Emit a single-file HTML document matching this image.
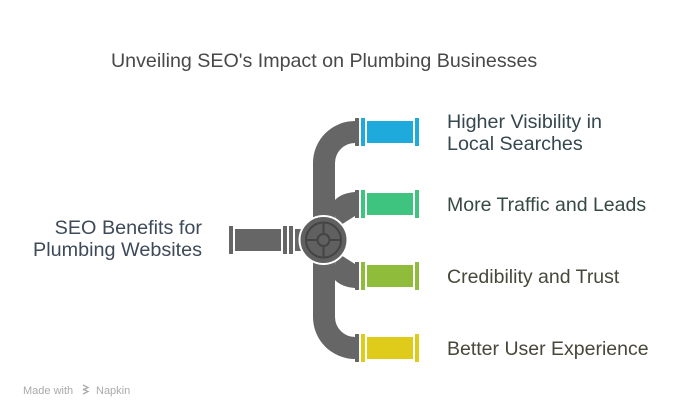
<!DOCTYPE html>
<html>
<head>
<meta charset="utf-8">
<style>
  html,body{margin:0;padding:0;background:#fff;}
  body{width:684px;height:418px;overflow:hidden;position:relative;}
  svg{position:absolute;left:0;top:0;}
  text{font-family:"Liberation Sans",Arial,sans-serif;}
</style>
</head>
<body>
<svg width="684" height="418" viewBox="0 0 684 418" xmlns="http://www.w3.org/2000/svg">
  <!-- Title -->
  <text x="111" y="67" font-size="19.65" fill="#484848">Unveiling SEO's Impact on Plumbing Businesses</text>

  <!-- Main pipe -->
  <path d="M313,317 L313,163 A42,42 0 0 1 355,121 L355,143 A20,20 0 0 0 335,163 L335,317 A20,20 0 0 0 355,337 L355,359 A42,42 0 0 1 313,317 Z" fill="#666666"/>
  <!-- Branches -->
  <path d="M334,201 Q341,193 355,192 L355,216 L336,228 Z" fill="#666666"/>
  <path d="M334,279 Q341,287 355,288 L355,264 L336,252 Z" fill="#666666"/>

  <!-- Left pipe -->
  <rect x="229" y="226" width="4" height="28" fill="#666666"/>
  <rect x="235" y="229" width="46" height="22" fill="#666666"/>
  <rect x="283" y="226" width="4" height="28" fill="#666666"/>
  <rect x="289" y="226" width="4" height="28" fill="#666666"/>
  <rect x="295" y="229" width="14" height="22" fill="#666666"/>

  <!-- Right outlets -->
  <g>
    <rect x="355" y="118" width="4" height="28" fill="#666666"/>
    <rect x="361" y="118" width="4" height="28" fill="#1eabdb"/>
    <rect x="367" y="121" width="46" height="22" fill="#1eabdb"/>
    <rect x="415" y="118" width="4" height="28" fill="#1eabdb"/>
  </g>
  <g>
    <rect x="355" y="190" width="4" height="28" fill="#666666"/>
    <rect x="361" y="190" width="4" height="28" fill="#3ec47f"/>
    <rect x="367" y="193" width="46" height="22" fill="#3ec47f"/>
    <rect x="415" y="190" width="4" height="28" fill="#3ec47f"/>
  </g>
  <g>
    <rect x="355" y="262" width="4" height="28" fill="#666666"/>
    <rect x="361" y="262" width="4" height="28" fill="#8fbc3a"/>
    <rect x="367" y="265" width="46" height="22" fill="#8fbc3a"/>
    <rect x="415" y="262" width="4" height="28" fill="#8fbc3a"/>
  </g>
  <g>
    <rect x="355" y="334" width="4" height="28" fill="#666666"/>
    <rect x="361" y="334" width="4" height="28" fill="#dfcb1a"/>
    <rect x="367" y="337" width="46" height="22" fill="#dfcb1a"/>
    <rect x="415" y="334" width="4" height="28" fill="#dfcb1a"/>
  </g>

  <!-- Valve -->
  <circle cx="323.5" cy="240" r="24" fill="#606060" stroke="#ffffff" stroke-width="2"/>
  <circle cx="323.5" cy="240" r="17.5" fill="none" stroke="#444444" stroke-width="2"/>
  <line x1="323.5" y1="222.5" x2="323.5" y2="257.5" stroke="#444444" stroke-width="2"/>
  <line x1="306" y1="240" x2="341" y2="240" stroke="#444444" stroke-width="2"/>
  <circle cx="323.5" cy="240" r="6" fill="#606060" stroke="#444444" stroke-width="2"/>

  <!-- Left label -->
  <text x="202" y="234" font-size="19.8" fill="#3e4a5a" text-anchor="end">SEO Benefits for</text>
  <text x="202" y="256" font-size="19.8" fill="#3e4a5a" text-anchor="end">Plumbing Websites</text>

  <!-- Right labels -->
  <text x="447" y="128" font-size="19.7" fill="#34474f">Higher Visibility in</text>
  <text x="447" y="150" font-size="19.7" fill="#34474f">Local Searches</text>
  <text x="447" y="211" font-size="19.5" fill="#364a44">More Traffic and Leads</text>
  <text x="447" y="283" font-size="19.5" fill="#46493a">Credibility and Trust</text>
  <text x="447" y="355" font-size="19.5" fill="#48473a">Better User Experience</text>

  <!-- Watermark -->
  <text x="23" y="394" font-size="11" fill="#aaaaaa">Made with</text>
  <g fill="none" stroke="#aaaaaa" stroke-width="1.3">
    <path d="M83,385 L88,387.5 L83,390"/>
    <path d="M83,389 L88,391.5 L83,394"/>
  </g>
  <text x="96" y="394" font-size="11" fill="#aaaaaa">Napkin</text>
</svg>
</body>
</html>
